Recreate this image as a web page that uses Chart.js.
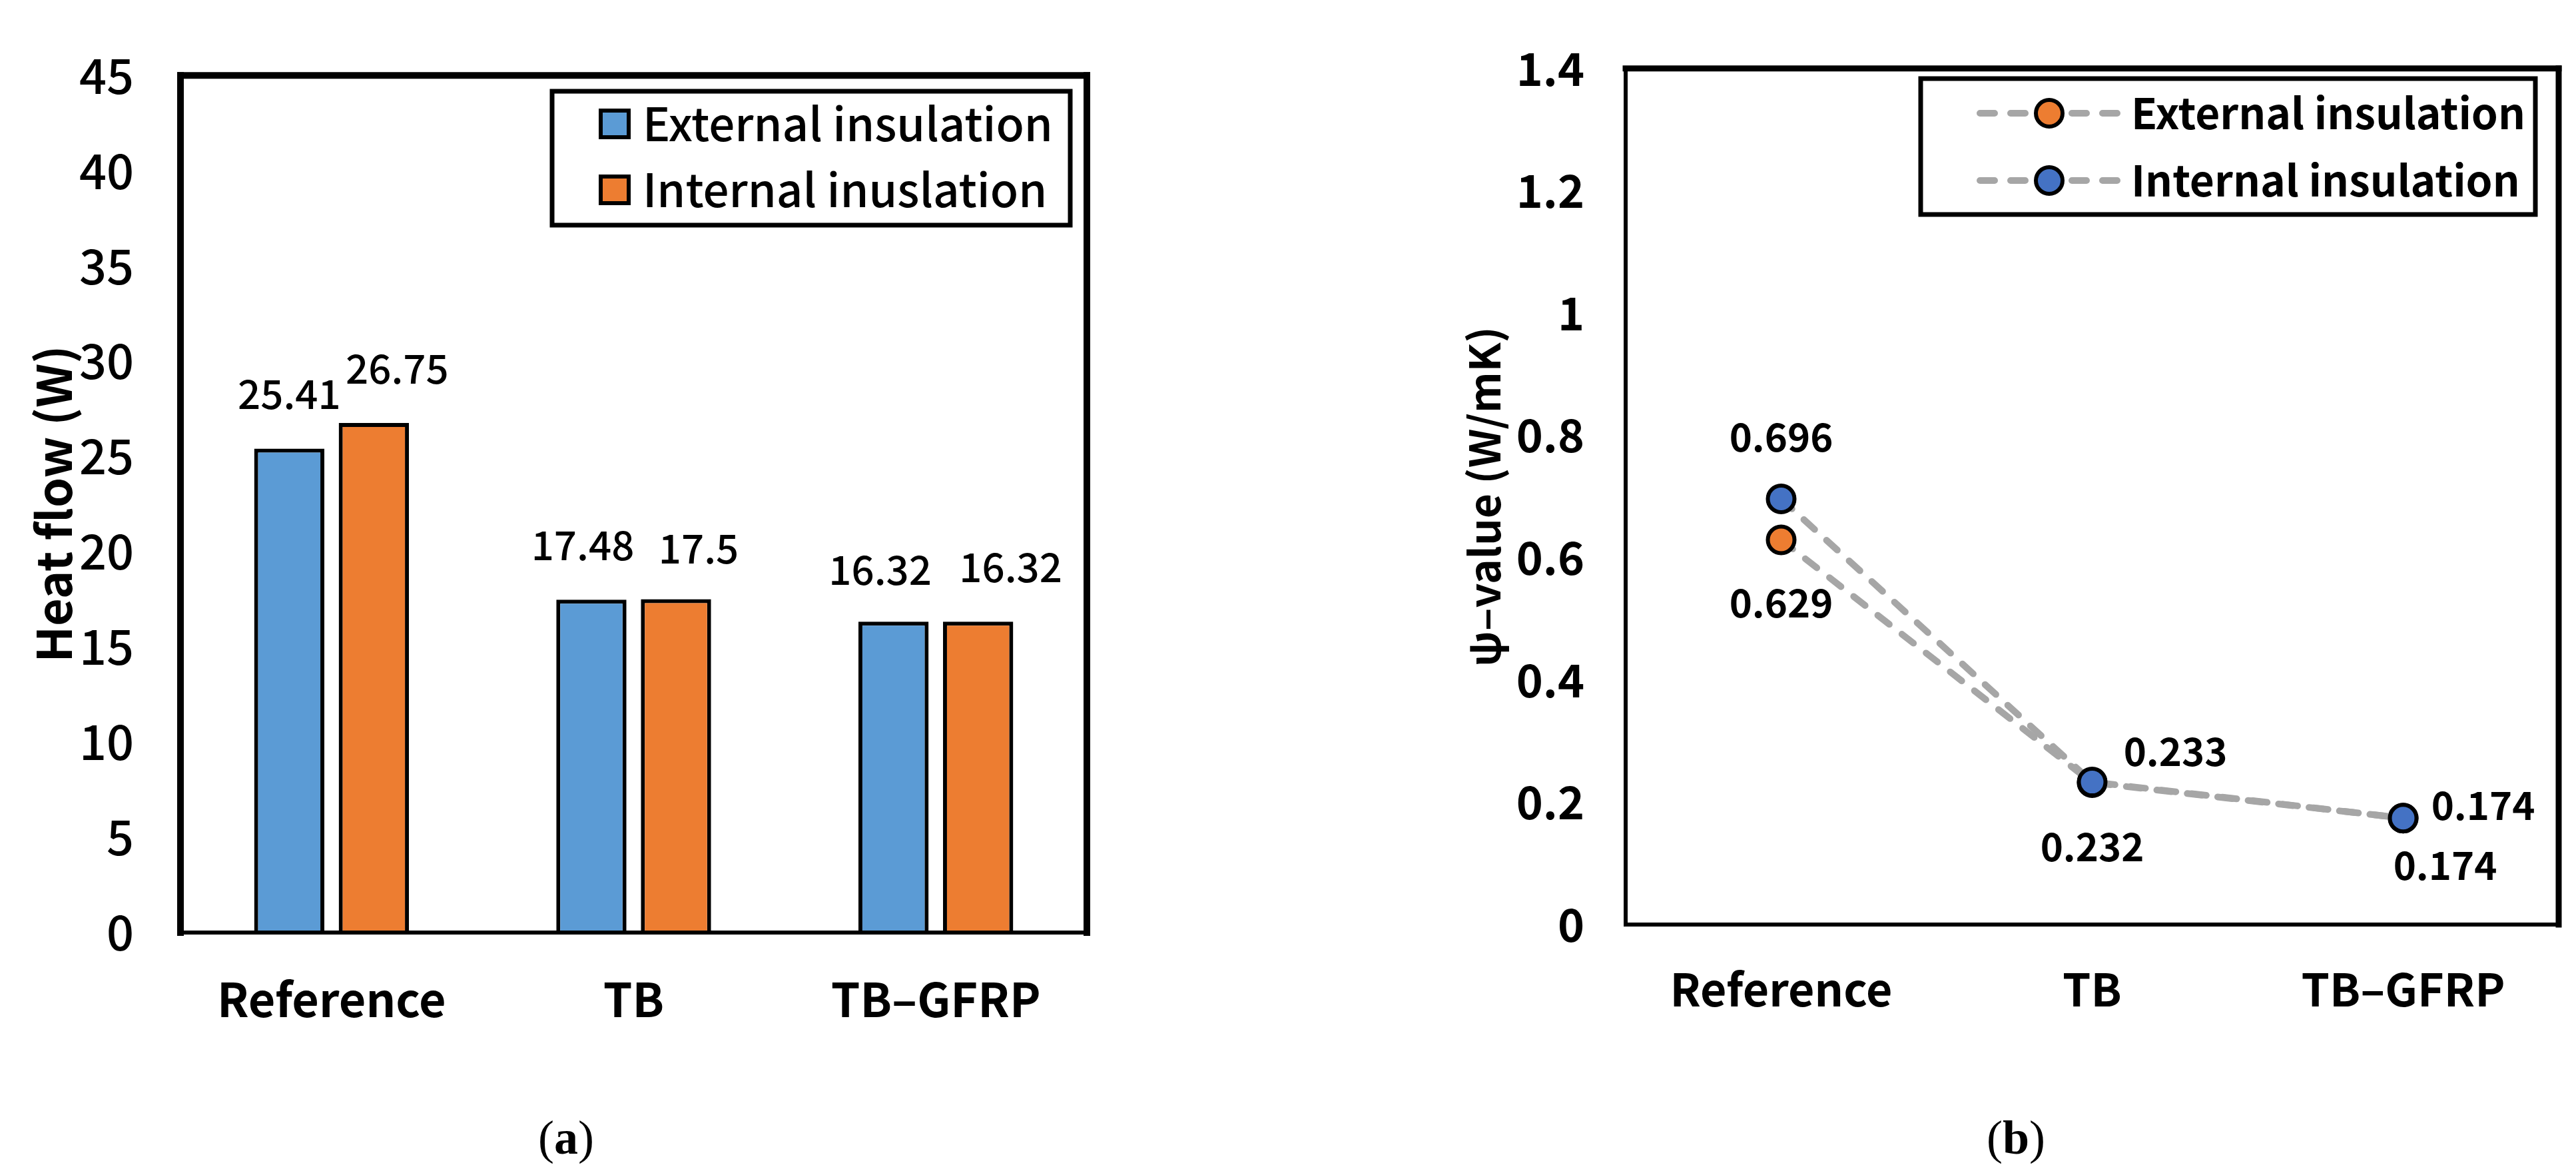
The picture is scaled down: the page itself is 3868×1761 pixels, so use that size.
<!DOCTYPE html>
<html>
<head>
<meta charset="utf-8">
<script src="https://cdn.jsdelivr.net/npm/chart.js@4.4.0/dist/chart.umd.min.js"></script>
<style>
  html, body { margin: 0; padding: 0; background: #fff; }
  body { width: 3868px; height: 1761px; position: relative; overflow: hidden; }
  canvas { position: absolute; top: 0; }
  #heatChart { left: 0; }
  #psiChart { left: 2000px; }
  .caption { position: absolute; top: 1672px; line-height: 72px; font-family: 'Liberation Serif', serif; font-size: 72px; transform: translateX(-50%); white-space: nowrap; }
</style>
</head>
<body>
<canvas id="heatChart" width="1700" height="1600"></canvas>
<canvas id="psiChart" width="1868" height="1600"></canvas>
<div class="caption" style="left:850px">(<b>a</b>)</div>
<div class="caption" style="left:3027px">(<b>b</b>)</div>
<script>
const categories = ['Reference', 'TB', 'TB–GFRP'];

// (a) heat flow (W)
const heatNames = ['External insulation', 'Internal inuslation'];
const heatExternal = [25.41, 17.48, 16.32];
const heatInternal = [26.75, 17.5, 16.32];
const heatTicks = ['0', '5', '10', '15', '20', '25', '30', '35', '40', '45'];

// (b) psi-value (W/mK)
const psiNames = ['External insulation', 'Internal insulation'];
const psiExternal = [0.629, 0.232, 0.174];
const psiInternal = [0.696, 0.233, 0.174];
const psiTicks = ['0', '0.2', '0.4', '0.6', '0.8', '1', '1.2', '1.4'];

const FONT = "'Noto Sans CJK KR', 'Noto Sans', sans-serif";
Chart.defaults.font.family = FONT;
Chart.defaults.color = '#000';

// plot area border, like the excel frame
const frame = {
  id: 'frame',
  afterDatasetsDraw(chart, args, o) {
    const {ctx, chartArea: a} = chart;
    const side = (w, x1, y1, x2, y2) => {
      ctx.lineWidth = w;
      ctx.beginPath();
      ctx.moveTo(x1, y1);
      ctx.lineTo(x2, y2);
      ctx.stroke();
    };
    ctx.save();
    ctx.strokeStyle = '#000';
    ctx.lineCap = 'square';
    side(o.top, a.left, a.top, a.right, a.top);
    side(o.right, a.right, a.top, a.right, a.bottom);
    side(o.left, a.left, a.top, a.left, a.bottom);
    side(o.bottom, a.left, a.bottom, a.right, a.bottom);
    ctx.restore();
  }
};

const valueLabels = {
  id: 'valueLabels',
  afterDatasetsDraw(chart, args, o) {
    const {ctx} = chart;
    ctx.save();
    ctx.font = o.font;
    ctx.fillStyle = '#000';
    ctx.textAlign = 'center';
    ctx.textBaseline = 'middle';
    chart.data.datasets.forEach((ds, i) => {
      chart.getDatasetMeta(i).data.forEach((el, j) => {
        const [dx, dy] = o.offsets[i][j];
        ctx.fillText(String(ds.data[j]), el.x + dx, el.y + dy);
      });
    });
    ctx.restore();
  }
};

const boxLegend = {
  id: 'boxLegend',
  afterDraw(chart, args, o) {
    const {ctx} = chart;
    const [x1, y1, x2, y2] = o.box;
    ctx.save();
    ctx.fillStyle = '#fff';
    ctx.fillRect(x1, y1, x2 - x1, y2 - y1);
    ctx.lineWidth = 7;
    ctx.strokeStyle = '#000';
    ctx.strokeRect(x1, y1, x2 - x1, y2 - y1);
    ctx.font = o.font;
    ctx.textAlign = 'left';
    ctx.textBaseline = 'middle';
    chart.data.datasets.forEach((ds, i) => {
      const y = o.rows[i];
      if (o.kind === 'bar') {
        ctx.fillStyle = ds.backgroundColor;
        ctx.fillRect(o.swatch[0], y - 20, o.swatch[1] - o.swatch[0], 40);
        ctx.lineWidth = 6;
        ctx.strokeStyle = '#000';
        ctx.strokeRect(o.swatch[0], y - 20, o.swatch[1] - o.swatch[0], 40);
      } else {
        ctx.setLineDash(ds.borderDash);
        ctx.lineCap = 'round';
        ctx.lineWidth = ds.borderWidth;
        ctx.strokeStyle = ds.borderColor;
        ctx.beginPath();
        ctx.moveTo(o.line[0], y);
        ctx.lineTo(o.line[1], y);
        ctx.stroke();
        ctx.setLineDash([]);
        ctx.beginPath();
        ctx.arc(o.marker, y, ds.pointRadius, 0, Math.PI * 2);
        ctx.fillStyle = ds.pointBackgroundColor;
        ctx.fill();
        ctx.lineWidth = ds.pointBorderWidth;
        ctx.strokeStyle = '#000';
        ctx.stroke();
      }
      ctx.fillStyle = '#000';
      ctx.fillText(ds.label, o.textX, y);
    });
    ctx.restore();
  }
};

new Chart(document.getElementById('heatChart'), {
  type: 'bar',
  data: {
    labels: categories,
    datasets: [
      { label: heatNames[0], data: heatExternal, backgroundColor: '#5b9bd5', borderColor: '#000', borderWidth: 6 },
      { label: heatNames[1], data: heatInternal, backgroundColor: '#ed7d31', borderColor: '#000', borderWidth: 6 }
    ]
  },
  plugins: [frame, valueLabels, boxLegend],
  options: {
    responsive: false,
    animation: false,
    devicePixelRatio: 1,
    categoryPercentage: 0.56,
    barPercentage: 0.83,
    layout: { padding: { top: 102, right: 68, left: 0, bottom: 0 } },
    plugins: {
      legend: { display: false },
      tooltip: { enabled: false },
      frame: { top: 10, right: 10, left: 10, bottom: 6 },
      valueLabels: {
        font: '500 60px ' + FONT,
        offsets: [[[0, -82], [-13, -82], [-20, -78]], [[35, -82], [34, -76], [49, -82]]]
      },
      boxLegend: {
        kind: 'bar',
        font: '500 69px ' + FONT,
        box: [829, 137, 1607, 338],
        rows: [186, 285],
        swatch: [902, 944],
        textX: 965
      }
    },
    scales: {
      x: {
        grid: { display: false, drawTicks: false },
        border: { display: false },
        ticks: { font: { size: 70, weight: 'bold' }, padding: 58 },
        afterFit: s => { s.height = 200; }
      },
      y: {
        min: 0,
        max: 45,
        grid: { display: false, drawTicks: false },
        border: { display: false },
        ticks: { stepSize: 5, padding: 70, font: { size: 72, weight: 500 }, callback: (v, i) => heatTicks[i] },
        title: { display: true, text: 'Heat flow (W)', font: { size: 72, weight: 'bold' }, padding: { top: 37 } },
        afterFit: s => { s.width = 271; }
      }
    }
  }
});

const psiLine = {
  borderColor: '#a6a6a6',
  borderWidth: 10,
  borderDash: [22, 24],
  borderCapStyle: 'round',
  pointRadius: 20,
  pointBorderWidth: 6,
  pointBorderColor: '#000',
  tension: 0,
  fill: false
};

new Chart(document.getElementById('psiChart'), {
  type: 'line',
  data: {
    labels: categories,
    datasets: [
      Object.assign({ label: psiNames[0], data: psiExternal, pointBackgroundColor: '#ed7d31', order: 1 }, psiLine),
      Object.assign({ label: psiNames[1], data: psiInternal, pointBackgroundColor: '#4472c4', order: 0 }, psiLine)
    ]
  },
  plugins: [frame, valueLabels, boxLegend],
  options: {
    responsive: false,
    animation: false,
    devicePixelRatio: 1,
    layout: { padding: { top: 67, right: 18, left: 0, bottom: 0 } },
    plugins: {
      legend: { display: false },
      tooltip: { enabled: false },
      frame: { top: 9, right: 9, left: 6, bottom: 6 },
      valueLabels: {
        font: 'bold 58px ' + FONT,
        offsets: [[[0, 94], [0, 96], [63, 71]], [[0, -93], [125, -46], [120, -19]]]
      },
      boxLegend: {
        kind: 'line',
        font: 'bold 64px ' + FONT,
        box: [884, 118, 1807, 322],
        rows: [170, 271],
        line: [973, 1180],
        marker: 1077,
        textX: 1200
      }
    },
    scales: {
      x: {
        offset: true,
        grid: { display: false, drawTicks: false },
        border: { display: false },
        ticks: { font: { size: 68, weight: 'bold' }, padding: 56 },
        afterFit: s => { s.height = 212; }
      },
      y: {
        min: 0,
        max: 1.4,
        grid: { display: false, drawTicks: false },
        border: { display: false },
        ticks: { stepSize: 0.2, padding: 62, font: { size: 68, weight: 'bold' }, callback: (v, i) => psiTicks[i] },
        title: { display: true, text: 'ψ–value (W/mK)', font: { size: 64, weight: 'bold' }, padding: { top: 190 } },
        afterFit: s => { s.width = 441; }
      }
    }
  }
});
</script>
</body>
</html>
